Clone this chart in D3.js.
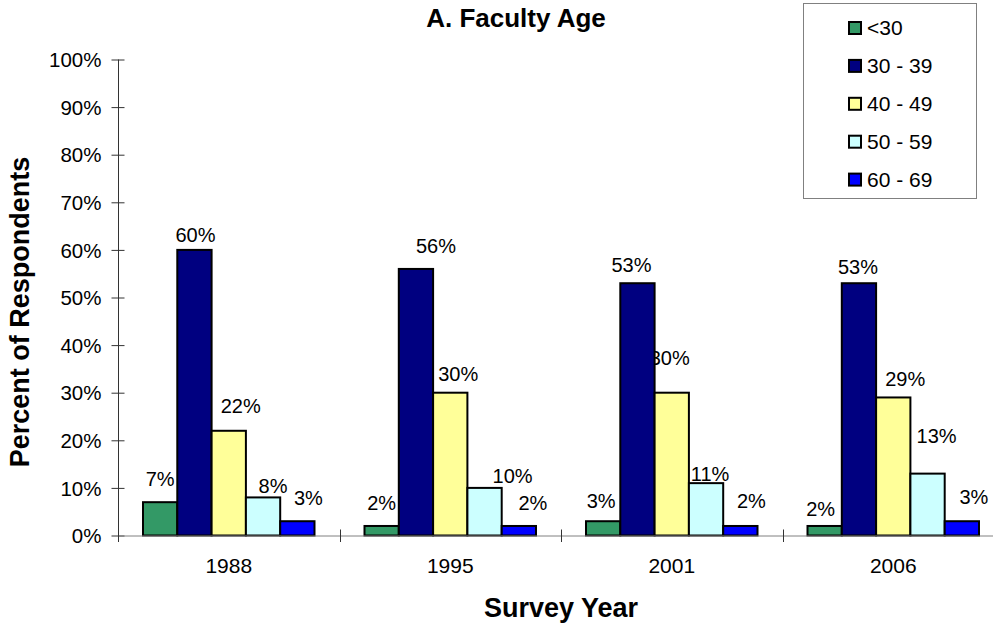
<!DOCTYPE html>
<html>
<head>
<meta charset="utf-8">
<script src="https://cdn.jsdelivr.net/npm/d3@7"></script>
<style>
  body { margin: 0; background: #fff; }
  svg text { font-family: Arial, "Liberation Sans", sans-serif; fill: #000; }
  .bar { stroke: #000; stroke-width: 2; }
</style>
</head>
<body>
<svg id="chart" width="993" height="625"></svg>
<script>
// survey years and age groups
var years = ["1988", "1995", "2001", "2006"];
var ageGroups = ["<30", "30 - 39", "40 - 49", "50 - 59", "60 - 69"];

// percent of respondents per age group, one value per survey year
var under30 = [7, 2, 3, 2];
var age30s = [60, 56, 53, 53];
var age40s = [22, 30, 30, 29];
var age50s = [8, 10, 11, 13];
var age60s = [3, 2, 2, 3];

var yTicks = [0, 10, 20, 30, 40, 50, 60, 70, 80, 90, 100];

var colors = ["#339966", "#000080", "#FFFF99", "#CCFFFF", "#0000FF"];

// hand placed label offsets (dx, dy from bar top), like the original sheet
var labelShift = [
  [[0, -16], [1, -8], [12, -18], [10, -4], [11, -16]],
  [[0, -16], [20, -16], [8, -12], [28, -5], [14, -16]],
  [[-2, -13], [-6, -11], [-2, -28], [4, -2], [11, -18]],
  [[-4, -10], [-1, -9], [12, -11], [9, -31], [12, -17]]
];

drawChart();

function drawChart() {
  var series = [under30, age30s, age40s, age50s, age60s];

  var data = years.map(function(yr, i) {
    return ageGroups.map(function(g, j) {
      return {year: yr, group: g, idx: j, value: series[j][i],
              dx: labelShift[i][j][0], dy: labelShift[i][j][1]};
    });
  });

  var plotLeft = 118, plotBottom = 535.5, plotTop = 59.5;
  var catWidth = 221.5;

  var svg = d3.select("#chart");

  var x0 = d3.scaleBand()
    .domain(years)
    .range([plotLeft, plotLeft + catWidth * years.length])
    .padding(0);

  var x1 = d3.scaleBand()
    .domain(ageGroups)
    .range([25, catWidth - 25])
    .padding(0);

  var y = d3.scaleLinear().domain([0, 100]).range([plotBottom, plotTop]);

  // title
  svg.append("text")
    .attr("x", 516)
    .attr("y", 27)
    .attr("text-anchor", "middle")
    .style("font-weight", "bold")
    .style("font-size", "26px")
    .text("A. Faculty Age");

  // y axis
  var yAxis = d3.axisLeft(y)
    .tickValues(yTicks)
    .tickSize(6.5)
    .tickPadding(10)
    .tickFormat(function(d) { return d + "%"; });

  var yg = svg.append("g")
    .attr("transform", "translate(" + plotLeft + ",0)")
    .call(yAxis);
  yg.select(".domain").attr("stroke", "#333").attr("d", "M0.5," + plotTop + "V" + plotBottom);
  yg.selectAll(".tick line").attr("x1", 6.5).attr("stroke", "#333");
  yg.selectAll(".tick text")
    .attr("dy", "0.35em")
    .style("font-family", "Arial, 'Liberation Sans', sans-serif")
    .style("font-size", "20.5px");

  svg.append("text")
    .attr("transform", "translate(29,312) rotate(-90)")
    .attr("text-anchor", "middle")
    .style("font-weight", "bold")
    .style("font-size", "27px")
    .text("Percent of Respondents");

  // labels go under the bars, so a bar may hide part of a label
  var groups = svg.selectAll(".year")
    .data(data)
    .enter().append("g")
    .attr("class", "year")
    .attr("transform", function(d, i) { return "translate(" + x0(years[i]) + ",0)"; });

  groups.selectAll(".val")
    .data(function(d) { return d; })
    .enter().append("text")
    .attr("class", "val")
    .attr("x", function(d) { return x1(d.group) + x1.bandwidth() / 2 + d.dx; })
    .attr("y", function(d) { return y(d.value) + d.dy; })
    .attr("text-anchor", "middle")
    .style("font-size", "20px")
    .text(function(d) { return d.value + "%"; });

  groups.selectAll(".bar")
    .data(function(d) { return d; })
    .enter().append("rect")
    .attr("class", "bar")
    .attr("x", function(d) { return x1(d.group); })
    .attr("y", function(d) { return y(d.value); })
    .attr("width", x1.bandwidth())
    .attr("height", function(d) { return plotBottom - y(d.value); })
    .attr("fill", function(d) { return colors[d.idx]; });

  // x axis
  var xAxis = d3.axisBottom(x0).tickSize(0).tickPadding(23);
  var xg = svg.append("g")
    .attr("transform", "translate(0," + plotBottom + ")")
    .call(xAxis);
  xg.select(".domain").attr("stroke", "#808080");
  xg.selectAll(".tick text")
    .style("font-family", "Arial, 'Liberation Sans', sans-serif")
    .style("font-size", "21px");

  var bounds = years.map(function(yr) { return x0(yr); }).concat([x0.range()[1]]);
  xg.selectAll(".sep")
    .data(bounds)
    .enter().append("line")
    .attr("class", "sep")
    .attr("x1", function(d) { return Math.round(d) + 0.5; })
    .attr("x2", function(d) { return Math.round(d) + 0.5; })
    .attr("y1", -6)
    .attr("y2", 6.5)
    .attr("stroke", "#333");

  svg.append("text")
    .attr("x", 561)
    .attr("y", 617)
    .attr("text-anchor", "middle")
    .style("font-weight", "bold")
    .style("font-size", "27px")
    .text("Survey Year");

  // legend
  var legend = svg.append("g");
  legend.append("rect")
    .attr("x", 803.5)
    .attr("y", 3.5)
    .attr("width", 173)
    .attr("height", 195)
    .attr("fill", "#fff")
    .attr("stroke", "#808080");

  var items = legend.selectAll(".item")
    .data(ageGroups)
    .enter().append("g")
    .attr("class", "item")
    .attr("transform", function(d, i) { return "translate(0," + (35 + i * 37.9) + ")"; });

  items.append("rect")
    .attr("x", 849)
    .attr("y", -13)
    .attr("width", 12)
    .attr("height", 12)
    .attr("fill", function(d, i) { return colors[i]; })
    .attr("stroke", "#000")
    .attr("stroke-width", 2);

  items.append("text")
    .attr("x", 867)
    .attr("y", 0)
    .style("font-size", "21px")
    .text(function(d) { return d; });
}
</script>
</body>
</html>
